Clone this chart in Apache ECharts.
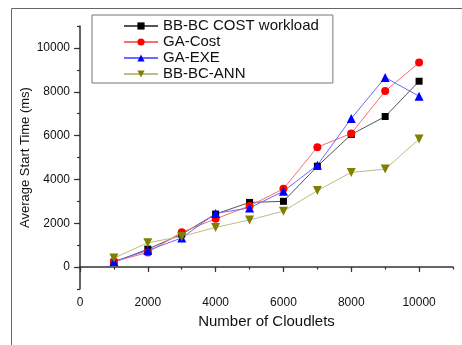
<!DOCTYPE html>
<html>
<head>
<meta charset="utf-8">
<script src="https://cdn.jsdelivr.net/npm/echarts@6/dist/echarts.min.js"></script>
<style>
  html, body { margin: 0; padding: 0; background: #fff; }
  #chart { width: 462px; height: 345px; }
</style>
</head>
<body>
<div id="chart"></div>
<script>
// Number of cloudlets (x) and average start time in ms for each scheduler
const cloudlets = [1000, 2000, 3000, 4000, 5000, 6000, 7000, 8000, 9000, 10000];
const bbbcCostWorkload = [220, 820, 1500, 2420, 2950, 3000, 4600, 6050, 6870, 8480];
const gaCost = [250, 670, 1590, 2200, 2790, 3570, 5470, 6100, 8030, 9330];
const gaExe = [260, 760, 1330, 2450, 2700, 3460, 4650, 6780, 8650, 7800];
const bbbcAnn = [410, 1110, 1400, 1810, 2150, 2550, 3490, 4320, 4470, 5840];

const seriesNames = ['BB-BC COST workload', 'GA-Cost', 'GA-EXE', 'BB-BC-ANN'];
const xTickLabels = [0, 2000, 4000, 6000, 8000, 10000];
const yTickLabels = [0, 2000, 4000, 6000, 8000, 10000];

const FONT = '"Liberation Sans", Arial, sans-serif';
const AXIS_COLOR = '#333';

function pairs(values) {
  return cloudlets.map((x, i) => [x, values[i]]);
}

function plain(v) {
  return String(v);
}

function lineSeries(name, values, lineColor, markColor, symbol, size, rotate) {
  return {
    name: name,
    type: 'line',
    data: pairs(values),
    symbol: symbol,
    symbolSize: size,
    symbolRotate: rotate || 0,
    showAllSymbol: true,
    lineStyle: { color: lineColor, width: 1 },
    itemStyle: { color: markColor, borderWidth: 0 },
    emphasis: { disabled: true },
    animation: false
  };
}

const chart = echarts.init(document.getElementById('chart'), null, { renderer: 'canvas' });

chart.setOption({
  backgroundColor: '#fff',
  animation: false,
  graphic: [{
    type: 'rect',
    shape: { x: 11.5, y: 8.5, width: 480, height: 360 },
    style: { fill: 'none', stroke: '#666', lineWidth: 1 },
    silent: true, z: -1
  }],
  grid: { left: 80, right: 9, top: 26, bottom: 56 },
  legend: {
    data: seriesNames,
    orient: 'vertical',
    left: 92, top: 15,
    padding: [3, 14, 1, 31],
    itemWidth: 34,
    itemHeight: 9,
    itemGap: 0,
    borderColor: '#777',
    borderWidth: 1,
    textStyle: { fontFamily: FONT, fontSize: 15, color: '#111', lineHeight: 16 }
  },
  xAxis: [{
    type: 'value',
    min: 0, max: 11000, interval: 1000,
    name: 'Number of Cloudlets',
    nameLocation: 'middle',
    nameGap: 25,
    nameMoveOverlap: false,
    nameTextStyle: { fontFamily: FONT, fontSize: 15, color: '#111' },
    axisLine: { show: true, lineStyle: { color: AXIS_COLOR, width: 1.5 } },
    axisTick: { show: true, customValues: xTickLabels, length: 5, lineStyle: { color: AXIS_COLOR, width: 1.2 } },
    axisLabel: { customValues: xTickLabels, formatter: plain, margin: 8, fontFamily: FONT, fontSize: 12, color: '#111' },
    splitLine: { show: false }
  }, {
    type: 'value',
    min: 0, max: 11000, interval: 1000,
    position: 'bottom',
    axisLine: { show: false },
    axisTick: { show: true, length: 2.5, lineStyle: { color: AXIS_COLOR, width: 1.2 } },
    axisLabel: { show: false },
    splitLine: { show: false }
  }],
  yAxis: [{
    type: 'value',
    min: -1000, max: 11000, interval: 1000,
    name: 'Average Start Time (ms)',
    nameLocation: 'middle',
    nameGap: 48,
    nameMoveOverlap: false,
    nameTextStyle: { fontFamily: FONT, fontSize: 13, color: '#111' },
    axisLine: { show: true, lineStyle: { color: AXIS_COLOR, width: 1.5 } },
    axisTick: { show: true, customValues: yTickLabels, length: 6, lineStyle: { color: AXIS_COLOR, width: 1.2 } },
    axisLabel: { customValues: yTickLabels, formatter: plain, margin: 10, fontFamily: FONT, fontSize: 12, color: '#111' },
    splitLine: { show: false }
  }, {
    type: 'value',
    min: -1000, max: 11000, interval: 1000,
    position: 'left',
    axisLine: { show: false },
    axisTick: { show: true, length: 3, lineStyle: { color: AXIS_COLOR, width: 1.2 } },
    axisLabel: { show: false },
    splitLine: { show: false }
  }],
  series: [
    lineSeries(seriesNames[0], bbbcCostWorkload, '#555', '#000', 'rect', 7),
    lineSeries(seriesNames[1], gaCost, '#ff6a6a', '#ff0000', 'circle', 8),
    lineSeries(seriesNames[2], gaExe, '#6a6aff', '#0000ff', 'triangle', 9),
    lineSeries(seriesNames[3], bbbcAnn, '#bdbd85', '#808000', 'triangle', 9, 180)
  ]
});
</script>
</body>
</html>
